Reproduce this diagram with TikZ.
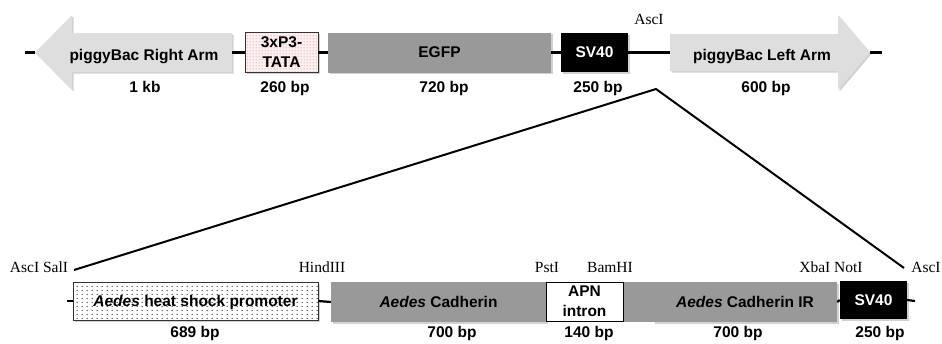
\documentclass[tikz,border=0pt]{standalone}
\usepackage{fontspec}
\setmainfont{Liberation Sans}
\newfontfamily\seriffont{Liberation Serif}
\usetikzlibrary{patterns,patterns.meta,shadows}
\definecolor{armgray}{RGB}{222,222,222}
\definecolor{boxgray}{RGB}{153,153,153}
\definecolor{tatapink}{RGB}{252,240,240}
\definecolor{tatadot}{RGB}{200,80,80}
\tikzdeclarepattern{
  name=sparsedots,
  type=uncolored,
  bottom left={(0pt,0pt)},
  top right={(5pt,4pt)},
  tile size={(5pt,4pt)},
  code={\fill (2.5pt,2pt) circle (0.7pt);}
}
\tikzdeclarepattern{
  name=finedots,
  type=uncolored,
  bottom left={(0pt,0pt)},
  top right={(3pt,3pt)},
  tile size={(3pt,3pt)},
  code={\fill (1.5pt,1.5pt) circle (0.55pt);}
}
\begin{document}
\begin{tikzpicture}[x=1pt,y=-1pt,
  every node/.style={font=\fontsize{15.5}{20}\selectfont\bfseries, inner sep=0pt},
  conn/.style={line width=2.2pt},
  shad/.style={drop shadow={shadow xshift=1.5pt, shadow yshift=-1.5pt, opacity=0.3, fill=black!60}},
  gbox/.style={rectangle, minimum height=40pt, fill=boxgray, shad},
  kbox/.style={rectangle, minimum height=39pt, fill=black, text=white, shad},
  sz/.style={anchor=base},
  site/.style={anchor=base, font=\fontsize{15.5}{18}\selectfont\seriffont},
]
\useasboundingbox (0,0) rectangle (942,343);

% ---------- top construct ----------
\coordinate (lend) at (25,52.5);
\coordinate (ltip) at (35,52.5);
\coordinate (lbody) at (232,52.5);
\coordinate (rbody) at (670,52.5);
\coordinate (rtip) at (870,52.5);
\coordinate (rend) at (882,52.5);

\fill[armgray, shad] (35,52.5) -- (72,15) -- (72,33) -- (232,33) -- (232,72) -- (72,72) -- (72,90) -- cycle;
\fill[armgray, shad] (670,34) -- (838,34) -- (838,15) -- (870,52.5) -- (838,90) -- (838,71) -- (670,71) -- cycle;
\node[anchor=base] (rarm) at (144,60) {piggyBac Right Arm};
\node[anchor=base] (larm) at (762,60) {piggyBac Left Arm};

\node[rectangle, draw=black!80, line width=0.6pt, minimum width=73pt, minimum height=40pt, align=center,
      shad, preaction={fill=tatapink}, pattern=finedots, pattern color=tatadot] (tata) at (281.5,52.5) {3xP3-\\TATA};
\node[gbox, minimum width=223pt] (egfp) at (439.5,52.5) {EGFP};
\node[kbox, minimum width=67pt] (sv40t) at (594.5,52.5) {SV40};

\draw[conn] (lend) -- (ltip);
\draw[conn] (lbody) -- (tata.west);
\draw[conn] (tata.east) -- (egfp.west);
\draw[conn] (egfp.east) -- (sv40t.west);
\draw[conn] (sv40t.east) -- (rbody);
\draw[conn] (rtip) -- (rend);

\node[site] (ascTop) at (649,24.3) {AscI};
\node[sz] (s1) at (145,92.5) {1 kb};
\node[sz] (s2) at (285,92.5) {260 bp};
\node[sz] (s3) at (444,92.5) {720 bp};
\node[sz] (s4) at (598,92.5) {250 bp};
\node[sz] (s5) at (766,92.5) {600 bp};

% ---------- expansion lines ----------
\coordinate (apex) at (656,89);
\coordinate (lowL) at (74,270);
\coordinate (lowR) at (904,268);
\draw[line width=2pt] (lowL) -- (apex) -- (lowR);

% ---------- bottom construct ----------
\coordinate (bstart) at (67,301);
\coordinate (bend) at (915,301);
\node[rectangle, draw=black!80, line width=0.6pt, minimum width=245pt, minimum height=38pt, text depth=0pt,
      shad, preaction={fill=white}, pattern=sparsedots, pattern color=black] (hsp) at (195.5,301) {\textit{Aedes} heat shock promoter};
\node[gbox, minimum width=215pt] (cad) at (438.5,302) {\textit{Aedes} Cadherin};
\node[gbox, minimum width=184pt] (ir) at (745,302) {\textit{Aedes} Cadherin IR};
\fill[boxgray] (cad.north east) rectangle (ir.south west);
\node[rectangle, draw=black, line width=0.8pt, fill=white, minimum width=77pt, minimum height=39pt, align=center] (apn) at (584.5,301.5) {APN\\intron};
\node[kbox, minimum width=67pt, minimum height=38pt] (sv40b) at (873.5,300) {SV40};

\draw[conn] (bstart) -- (hsp.west);
\draw[conn] (hsp.east) -- (cad.west);
\draw[conn] (ir.east) -- (sv40b.west);
\draw[conn] (sv40b.east) -- (bend);

\node[site] (r1) at (39,272.7) {AscI SalI};
\node[site] (r2) at (322,272.7) {HindIII};
\node[site] (r3) at (547,272.7) {PstI};
\node[site] (r4) at (610,272.7) {BamHI};
\node[site] (r5) at (831,272.7) {XbaI NotI};
\node[site] (r6) at (926,272.7) {AscI};

\node[sz] (b1) at (195,337.5) {689 bp};
\node[sz] (b2) at (452,337.5) {700 bp};
\node[sz] (b3) at (589,337.5) {140 bp};
\node[sz] (b4) at (738,337.5) {700 bp};
\node[sz] (b5) at (880,337.5) {250 bp};
\end{tikzpicture}
\end{document}
